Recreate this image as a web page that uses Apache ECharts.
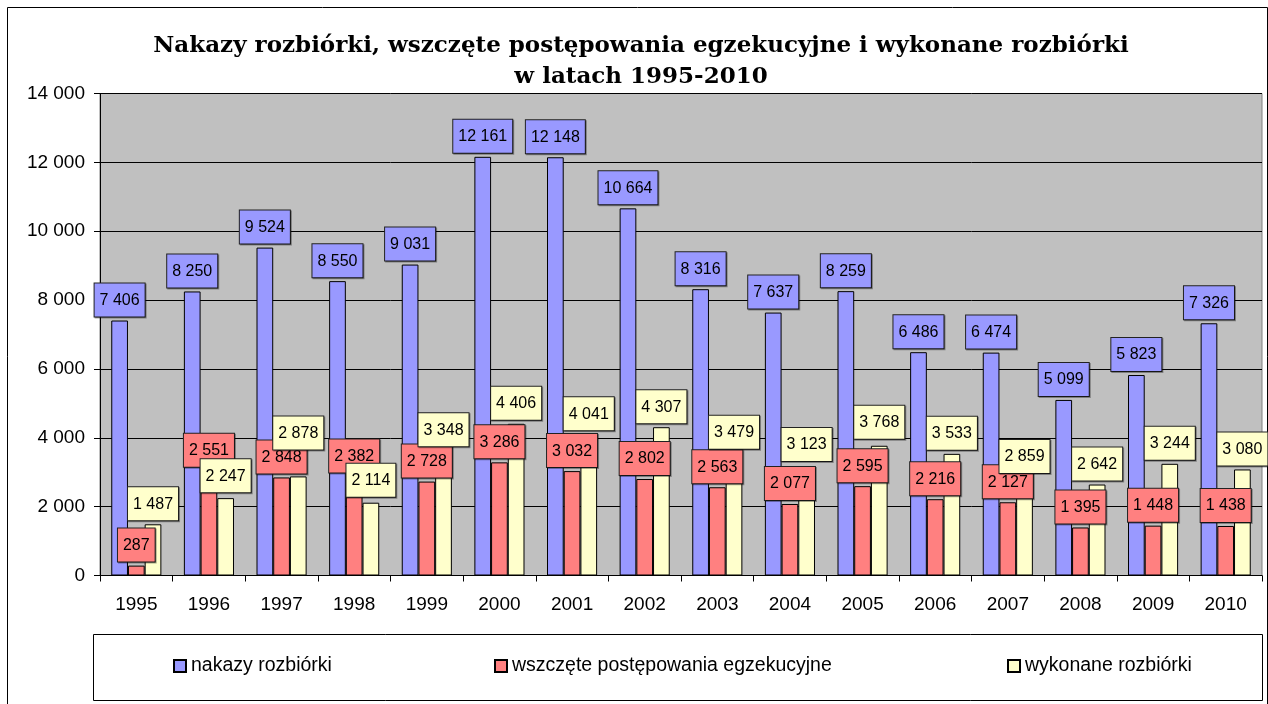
<!DOCTYPE html>
<html>
<head>
<meta charset="utf-8">
<script src="https://cdn.jsdelivr.net/npm/echarts@6/dist/echarts.min.js"></script>
<style>
html,body{margin:0;padding:0;background:#fff;}
#chart{width:1268px;height:704px;}
</style>
</head>
<body>
<div id="chart"></div>
<script>
const titleText = 'Nakazy rozbiórki, wszczęte postępowania egzekucyjne i wykonane rozbiórki\nw latach 1995-2010';
const years = ['1995','1996','1997','1998','1999','2000','2001','2002','2003','2004','2005','2006','2007','2008','2009','2010'];
const seriesNames = ['nakazy rozbiórki','wszczęte postępowania egzekucyjne','wykonane rozbiórki'];
const nakazy = [7406, 8250, 9524, 8550, 9031, 12161, 12148, 10664, 8316, 7637, 8259, 6486, 6474, 5099, 5823, 7326];
const wszczete = [287, 2551, 2848, 2382, 2728, 3286, 3032, 2802, 2563, 2077, 2595, 2216, 2127, 1395, 1448, 1438];
const wykonane = [1487, 2247, 2878, 2114, 3348, 4406, 4041, 4307, 3479, 3123, 3768, 3533, 2859, 2642, 3244, 3080];
const yTicks = [0, 2000, 4000, 6000, 8000, 10000, 12000, 14000];

// extra upward nudges (px) of data labels, as placed by hand in the original chart
const labelLiftNakazy = [0, 0, 0, 0, 0, 0, 0, 0, 0, 0, 0, 0, 0, 0, 0, 0];
const labelLiftWszczete = [0, 17, 0, 17, 0, 0, 0, 0, 0, 0, 0, 0, 0, 0, 0, 0];
const labelLiftWykonane = [0, 2, 23, 2, 10, 0, 2, 0, 3, 3, 3, 0, 0, 0, 0, 0];

const colors = ['#9999ff', '#ff8080', '#ffffcc'];
const allData = [nakazy, wszczete, wykonane];
const allLift = [labelLiftNakazy, labelLiftWszczete, labelLiftWykonane];
const fmt = v => String(v).replace(/\B(?=(\d{3})+(?!\d))/g, ' ');
const FONT = "Arial, 'Liberation Sans', sans-serif";

const chart = echarts.init(document.getElementById('chart'), null, {renderer: 'canvas'});

const barSeries = allData.map((d, i) => ({
  name: seriesNames[i],
  type: 'bar',
  xAxisIndex: 0,
  data: d,
  barGap: '0%',
  barCategoryGap: '31%',
  z: 2,
  itemStyle: {color: colors[i], borderColor: '#000', borderWidth: 1},
  emphasis: {disabled: true},
  animation: false
}));

const labelSeries = allData.map((d, i) => ({
  name: 'lbl' + i,
  type: 'bar',
  xAxisIndex: 1,
  data: d.map((v, k) => ({value: v, label: {offset: [0, -allLift[i][k]]}})),
  barGap: '0%',
  barCategoryGap: '31%',
  z: 5 + i,
  silent: true,
  itemStyle: {color: 'rgba(0,0,0,0)', borderWidth: 0},
  emphasis: {disabled: true},
  animation: false,
  label: {
    show: true,
    position: 'top',
    distance: 4,
    formatter: p => fmt(p.value),
    fontFamily: FONT,
    fontSize: 16,
    color: '#000',
    backgroundColor: colors[i],
    borderColor: '#222',
    borderWidth: 1,
    padding: [9, 5, 8, 5],
    shadowColor: 'rgba(0,0,0,0.35)',
    shadowOffsetX: 1,
    shadowOffsetY: 1,
    shadowBlur: 0
  }
}));

const legendLefts = [173, 494, 1007];
const legends = seriesNames.map((n, i) => ({
  data: [n],
  left: legendLefts[i],
  top: 656,
  padding: 0,
  itemWidth: 12,
  itemHeight: 12,
  itemGap: 6,
  icon: 'rect',
  selectedMode: false,
  textStyle: {fontFamily: FONT, fontSize: 19.5, color: '#000', padding: [0,0,0,0]}
}));

chart.setOption({
  animation: false,
  backgroundColor: '#fff',
  title: {
    text: titleText,
    left: 641,
    top: 31,
    padding: 0,
    textAlign: 'center',
    textStyle: {fontFamily: "'DejaVu Serif', serif", fontWeight: 'bold', fontSize: 23, lineHeight: 31, color: '#000'}
  },
  legend: legends,
  grid: {
    left: 100, right: 6, top: 93.5, bottom: 128.5,
    show: true, backgroundColor: '#c0c0c0', borderColor: '#808080', borderWidth: 1,
    containLabel: false
  },
  xAxis: [{
    type: 'category',
    data: years,
    axisLine: {show: true, lineStyle: {color: '#000', width: 1}},
    axisTick: {show: true, alignWithLabel: false, length: 6, lineStyle: {color: '#000'}},
    axisLabel: {fontFamily: FONT, fontSize: 19, color: '#000', margin: 20},
    splitLine: {show: false}
  }, {
    type: 'category',
    data: years,
    show: false,
    position: 'bottom'
  }],
  yAxis: {
    type: 'value',
    min: yTicks[0],
    max: yTicks[yTicks.length - 1],
    interval: yTicks[1] - yTicks[0],
    axisLine: {show: true, lineStyle: {color: '#000', width: 1}},
    axisTick: {show: true, length: 6, lineStyle: {color: '#000'}},
    axisLabel: {fontFamily: FONT, fontSize: 19, color: '#000', margin: 15, formatter: v => fmt(v)},
    splitLine: {show: true, lineStyle: {color: '#000', width: 1}}
  },
  graphic: [
    {type: 'rect', shape: {x: 7.5, y: 7.5, width: 1260, height: 700}, style: {fill: 'none', stroke: '#000', lineWidth: 1}, z: -1, silent: true},
    {type: 'rect', shape: {x: 93.5, y: 634.5, width: 1169, height: 66}, style: {fill: '#fff', stroke: '#000', lineWidth: 1}, z: -1, silent: true}
  ],
  series: barSeries.concat(labelSeries)
});
</script>
</body>
</html>
